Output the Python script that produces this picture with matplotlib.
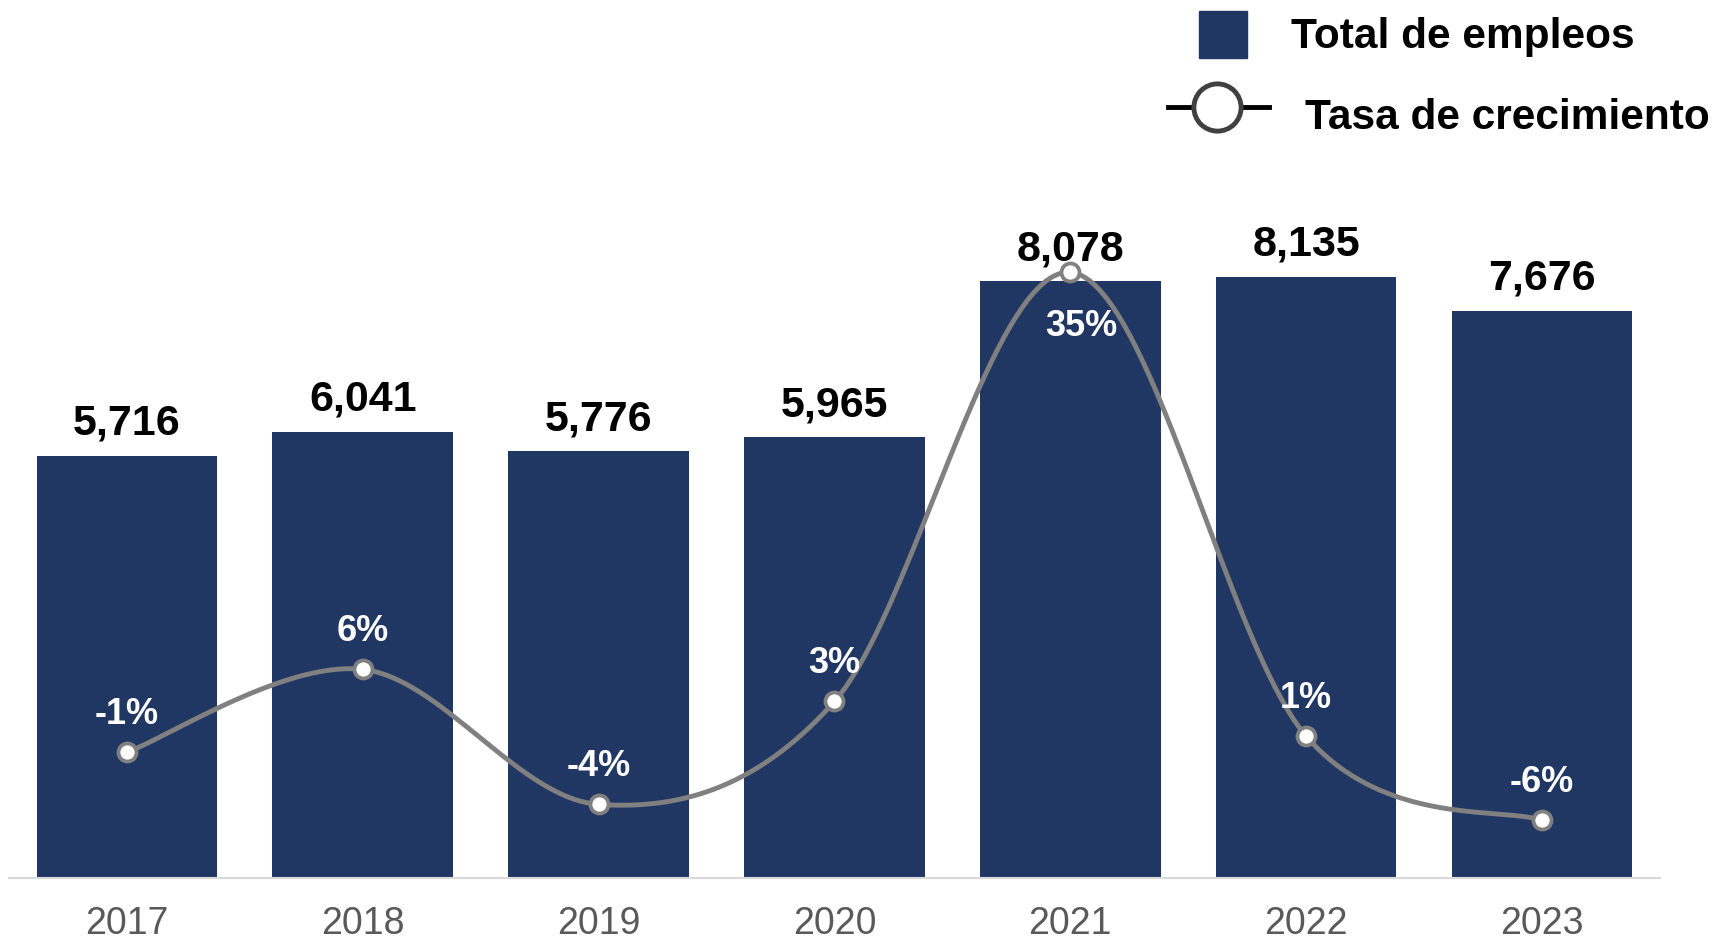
import matplotlib.pyplot as plt
import numpy as np
from matplotlib.lines import Line2D
from matplotlib.patches import Rectangle

plt.rcParams['font.family'] = ['Liberation Sans', 'DejaVu Sans']

years = ['2017', '2018', '2019', '2020', '2021', '2022', '2023']
empleos = [5716, 6041, 5776, 5965, 8078, 8135, 7676]
tasa = [-0.5, 5.7, -4.4, 3.3, 35.4, 0.7, -5.6]
tasa_labels = ['-1%', '6%', '-4%', '3%', '35%', '1%', '-6%']

bar_color = '#213763'
line_color = '#808080'


def smooth(x, y, n=40):
    # catmull-rom style smoothing, like the spreadsheet "smoothed line"
    x = np.asarray(x, float)
    y = np.asarray(y, float)
    px = np.concatenate([[x[0]], x, [x[-1]]])
    py = np.concatenate([[y[0]], y, [y[-1]]])
    xs, ys = [], []
    t = np.linspace(0, 1, n)
    for i in range(len(x) - 1):
        p0 = np.array([px[i + 1], py[i + 1]])
        p3 = np.array([px[i + 2], py[i + 2]])
        c1 = p0 + (p3 - np.array([px[i], py[i]])) / 6
        c2 = p3 - (np.array([px[i + 3], py[i + 3]]) - p0) / 6
        b = ((1 - t) ** 3)[:, None] * p0 + (3 * (1 - t) ** 2 * t)[:, None] * c1 \
            + (3 * (1 - t) * t ** 2)[:, None] * c2 + (t ** 3)[:, None] * p3
        xs.extend(b[:, 0])
        ys.extend(b[:, 1])
    return np.array(xs), np.array(ys)


fig = plt.figure(figsize=(17.15, 9.42), dpi=100)
ax = fig.add_axes([0.0052, 0.068, 0.9627, 0.7845])
x = np.arange(len(years))
ax.bar(x, empleos, width=0.766, color=bar_color, zorder=2)
ax.set_xlim(-0.5, 6.5)
ax.set_ylim(0, 10000)
for s in ['top', 'right', 'left']:
    ax.spines[s].set_visible(False)
ax.spines['bottom'].set_color('#d9d9d9')
ax.spines['bottom'].set_linewidth(1.5)
ax.set_yticks([])
ax.set_xticks(x)
ax.set_xticklabels(years, fontsize=27, color='#595959')
ax.tick_params(axis='x', length=0, pad=20)

for i, v in enumerate(empleos):
    ax.annotate(f'{v:,}', (i, v), xytext=(0, 15), textcoords='offset points',
                ha='center', va='baseline', fontsize=31, fontweight='bold', color='black')

ax2 = ax.twinx()
ax2.set_ylim(-9.9, 45.37)
ax2.axis('off')
sx, sy = smooth(x, tasa)
ax2.plot(sx, sy, color=line_color, lw=3.5, zorder=3, solid_capstyle='round')
ax2.plot(x, tasa, ls='none', marker='o', ms=13, mfc='white', mec=line_color, mew=2.7, zorder=4)

for i, (v, lab) in enumerate(zip(tasa, tasa_labels)):
    if i == 4:
        off = (8, -39)
    else:
        off = (0, 27)
    ax2.annotate(lab, (i, v), xytext=off, textcoords='offset points',
                 ha='center', va='center', fontsize=26, fontweight='bold', color='white', zorder=5)

# legend
W, H = 1715, 942
fig.patches.append(Rectangle((1199 / W, 1 - 58 / H), 48 / W, 47 / H,
                             transform=fig.transFigure, color=bar_color))
fig.text(1291 / W, 1 - 37 / H, 'Total de empleos', fontsize=30.5, fontweight='bold',
         va='center', ha='left')
fig.lines.append(Line2D([1168 / W, 1269 / W], [1 - 107 / H, 1 - 107 / H], transform=fig.transFigure,
                        color='black', lw=3.5))
fig.lines.append(Line2D([1217 / W], [1 - 107 / H], transform=fig.transFigure, marker='o', ms=34,
                        mfc='white', mec='#404040', mew=3.5, ls='none'))
fig.text(1305 / W, 1 - 118 / H, 'Tasa de crecimiento', fontsize=30.5, fontweight='bold',
         va='center', ha='left')

fig.savefig('out.png', dpi=100)
